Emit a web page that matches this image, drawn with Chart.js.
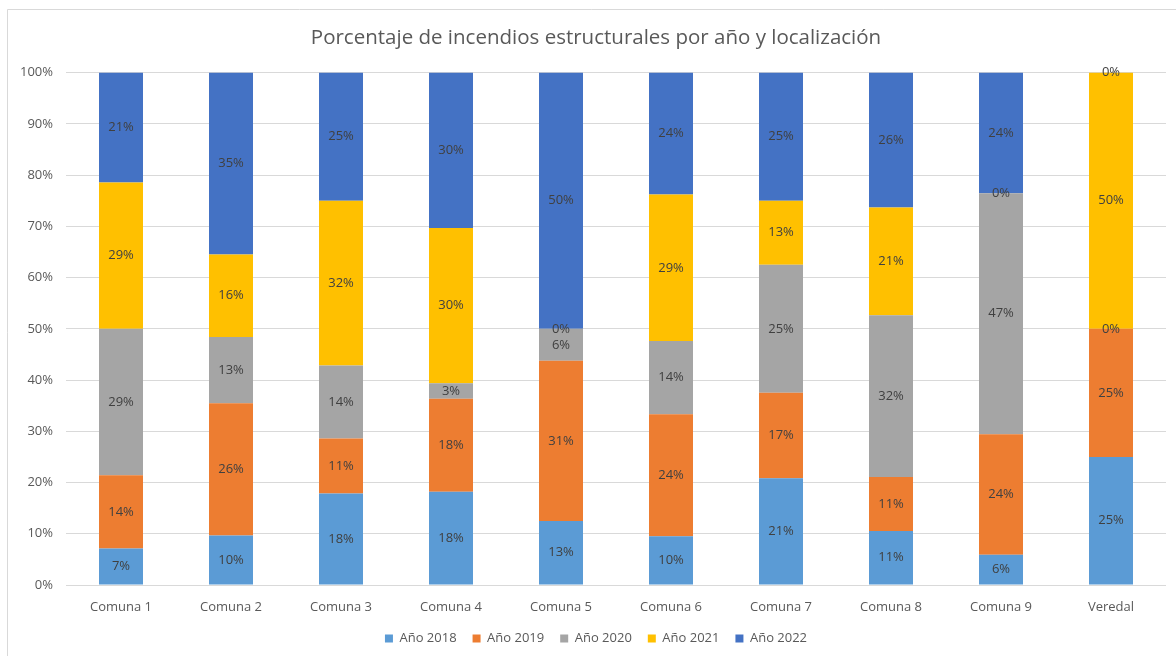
<!DOCTYPE html>
<html>
<head>
<meta charset="utf-8">
<script src="https://cdn.jsdelivr.net/npm/chart.js@4.4.1/dist/chart.umd.min.js"></script>
<style>
html,body{margin:0;padding:0;background:#fff;}
#wrap{width:1176px;height:656px;}
</style>
</head>
<body>
<div id="wrap"><canvas id="c" width="1176" height="656"></canvas></div>
<script>
const categories = ["Comuna 1","Comuna 2","Comuna 3","Comuna 4","Comuna 5","Comuna 6","Comuna 7","Comuna 8","Comuna 9","Veredal"];
const seriesNames = ["Año 2018","Año 2019","Año 2020","Año 2021","Año 2022"];
const y2018 = [7.14, 9.68, 17.86, 18.18, 12.50, 9.52, 20.83, 10.53, 5.88, 25.00];
const y2019 = [14.29, 25.81, 10.71, 18.18, 31.25, 23.81, 16.67, 10.53, 23.53, 25.00];
const y2020 = [28.57, 12.90, 14.29, 3.03, 6.25, 14.29, 25.00, 31.58, 47.06, 0];
const y2021 = [28.57, 16.13, 32.14, 30.30, 0, 28.57, 12.50, 21.05, 0, 50.00];
const y2022 = [21.43, 35.48, 25.00, 30.31, 50.00, 23.81, 25.00, 26.31, 23.53, 0];
const yTicks = [0,10,20,30,40,50,60,70,80,90,100];
const colors = ["#5B9BD5","#ED7D31","#A5A5A5","#FFC000","#4472C4"];

const FONT = "'Open Sans', sans-serif";
const allSeries = [y2018, y2019, y2020, y2021, y2022];

const frame = {
  id: 'frame',
  beforeDraw(chart){
    const ctx = chart.ctx;
    ctx.save();
    ctx.fillStyle = '#fff';
    ctx.fillRect(0,0,chart.width,chart.height);
    ctx.strokeStyle = '#d9d9d9';
    ctx.lineWidth = 1;
    ctx.beginPath();
    ctx.moveTo(7.5, chart.height);
    ctx.lineTo(7.5, 9.5);
    ctx.lineTo(chart.width, 9.5);
    ctx.stroke();
    ctx.restore();
  }
};

const labelsPlugin = {
  id: 'segLabels',
  afterDatasetsDraw(chart){
    const ctx = chart.ctx;
    ctx.save();
    ctx.font = "13px " + FONT;
    ctx.fillStyle = '#404040';
    ctx.textAlign = 'center';
    ctx.textBaseline = 'middle';
    chart.data.datasets.forEach((ds, i) => {
      const meta = chart.getDatasetMeta(i);
      meta.data.forEach((el, j) => {
        const v = ds.data[j];
        const p = el.getProps(['x','y','base'], true);
        ctx.fillText(Math.round(v) + '%', p.x, (p.y + p.base) / 2);
      });
    });
    ctx.restore();
  }
};

new Chart(document.getElementById('c'), {
  type: 'bar',
  data: {
    labels: categories,
    datasets: allSeries.map((d, i) => ({
      label: seriesNames[i],
      data: d,
      backgroundColor: colors[i],
      borderWidth: 0,
      barPercentage: 0.4,
      categoryPercentage: 1.0
    }))
  },
  options: {
    responsive: false,
    animation: false,
    layout: { padding: { left: 19, right: 3, top: 0, bottom: 1 } },
    plugins: {
      title: {
        display: true,
        text: 'Porcentaje de incendios estructurales por año y localización',
        color: '#595959',
        font: { family: FONT, size: 20.5, weight: 'normal' },
        padding: { top: 26, bottom: 22 }
      },
      legend: {
        position: 'bottom',
        labels: {
          color: '#595959',
          font: { family: FONT, size: 13 },
          boxWidth: 8,
          boxHeight: 8,
          padding: 16
        }
      },
      tooltip: { enabled: false }
    },
    scales: {
      x: {
        stacked: true,
        afterFit(s){ s.height = 31; },
        grid: { display: false, drawTicks: false },
        border: { display: false },
        ticks: { color: '#595959', font: { family: FONT, size: 13 }, padding: 14 }
      },
      y: {
        stacked: true,
        min: 0,
        max: 100,
        afterFit(s){ s.width = 47; },
        afterBuildTicks(s){ s.ticks = yTicks.map(v => ({ value: v })); },
        grid: { color: '#d9d9d9', drawTicks: false },
        border: { display: false },
        ticks: {
          color: '#595959',
          font: { family: FONT, size: 13 },
          padding: 13,
          callback: v => v + '%'
        }
      },
      yRight: {
        position: 'right',
        min: 0,
        max: 100,
        afterFit(s){ s.width = 7; },
        grid: { display: false, drawTicks: false },
        border: { display: false },
        ticks: { display: false }
      }
    }
  },
  plugins: [frame, labelsPlugin]
});
</script>
</body>
</html>
